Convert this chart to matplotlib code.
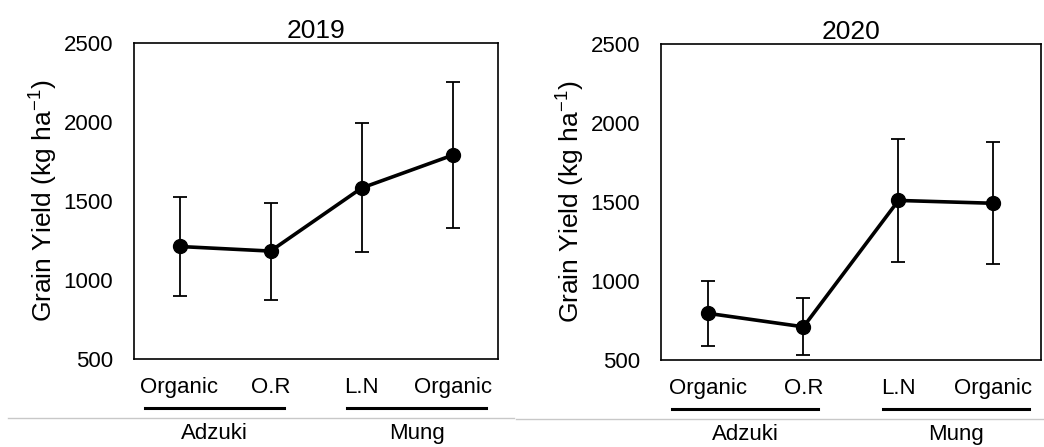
import matplotlib.pyplot as plt
from matplotlib.lines import Line2D
from matplotlib.transforms import blended_transform_factory

plt.rcParams['font.family'] = ['Liberation Sans', 'DejaVu Sans']

treatments = ["Organic", "O.R", "L.N", "Organic"]
crops = ["Adzuki", "Mung"]

yield_2019 = [1212, 1183, 1582, 1790]
err_lo_2019 = [312, 308, 407, 460]
err_hi_2019 = [313, 307, 413, 460]

yield_2020 = [795, 710, 1510, 1492]
err_lo_2020 = [205, 180, 390, 387]
err_hi_2020 = [205, 180, 390, 388]

fig = plt.figure(figsize=(10.44, 4.47), dpi=100)
ax1 = fig.add_axes([0.1284, 0.1969, 0.3487, 0.7069])
ax2 = fig.add_axes([0.6331, 0.1946, 0.3640, 0.7069])

panels = [
    (ax1, "2019", yield_2019, err_lo_2019, err_hi_2019),
    (ax2, "2020", yield_2020, err_lo_2020, err_hi_2020),
]

x = list(range(len(treatments)))

for ax, title, y, lo, hi in panels:
    ax.errorbar(x, y, yerr=[lo, hi], fmt="none", ecolor="black",
                elinewidth=1.3, capsize=4.7, capthick=1.3, zorder=2)
    ax.plot(x, y, color="black", lw=2.6, marker="o", markersize=10, zorder=3)
    ax.set_xlim(-0.5, 3.5)
    ax.set_ylim(500, 2500)
    ax.set_yticks([500, 1000, 1500, 2000, 2500])
    ax.set_xticks(x)
    ax.set_xticklabels(treatments)
    ax.tick_params(length=0, labelsize=16)
    ax.tick_params(axis="y", pad=15)
    ax.tick_params(axis="x", pad=13)
    for s in ax.spines.values():
        s.set_linewidth(1.2)
    ax.set_title(title, fontsize=19, pad=3)
    ax.set_ylabel(r"Grain Yield (kg ha$^{\mathregular{-1}}$)", fontsize=19, labelpad=3)

    # crop group underlines and names
    trans = blended_transform_factory(ax.transData, ax.transAxes)
    for (x0, x1), name in zip([(-0.38, 1.15), (1.84, 3.37)], crops):
        ax.add_line(Line2D([x0, x1], [-0.155, -0.155], transform=trans,
                           color="black", lw=2.2, clip_on=False))
        ax.text((x0 + x1) / 2, -0.235, name, transform=trans, ha="center",
                va="center", fontsize=16)

# thin grey divider across the figure
fig.add_artist(Line2D([0.008, 0.492], [0.065, 0.065], transform=fig.transFigure,
                      color="#c8c8c8", lw=1))
fig.add_artist(Line2D([0.494, 1.0], [0.063, 0.063], transform=fig.transFigure,
                      color="#c8c8c8", lw=1))

fig.savefig("out.png", dpi=100)
